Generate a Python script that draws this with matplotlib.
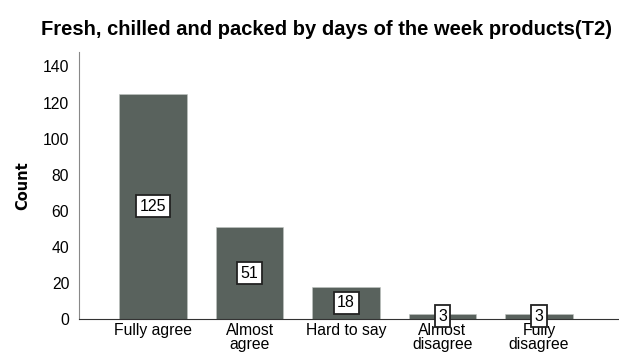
import numpy as np
import matplotlib.pyplot as plt

categories = ["Fully agree", "Almost\nagree", "Hard to say", "Almost\ndisagree", "Fully\ndisagree"]
counts = [125, 51, 18, 3, 3]
yticks = [0, 20, 40, 60, 80, 100, 120, 140]

plt.rcParams['font.family'] = ['Liberation Sans', 'DejaVu Sans']

fig = plt.figure(figsize=(6.19, 3.59), dpi=100)
ax = fig.add_axes([0.1276, 0.1114, 0.8724, 0.7437])

x = np.arange(len(categories))
bars = ax.bar(x, counts, width=0.7, color="#59625d", edgecolor="#c0c4c2", linewidth=0.4)

# value labels in white boxes, centred in each bar
for xi, c in zip(x, counts):
    ax.text(xi, c / 2, str(c), ha="center", va="center", fontsize=11.5,
            bbox=dict(boxstyle="square,pad=0.22", facecolor="white", edgecolor="#222222", linewidth=1.3))

ax.set_xlim(-0.77, 4.83)
ax.set_ylim(0, 148)
ax.set_xticks(x)
ax.set_xticklabels(categories, fontsize=11.3, linespacing=0.9)
ax.set_yticks(yticks)
ax.tick_params(axis="y", labelsize=11.3, length=0, pad=7)
ax.tick_params(axis="x", length=0, pad=3)

ax.spines["top"].set_visible(False)
ax.spines["right"].set_visible(False)
ax.spines["left"].set_color("#888888")
ax.spines["bottom"].set_color("#333333")

ax.set_ylabel("Count", fontsize=10.5, fontweight="bold", family="DejaVu Sans", labelpad=9)
fig.suptitle("Fresh, chilled and packed by days of the week products(T2)",
             x=0.528, y=0.945, fontsize=14.5, fontweight="bold")

fig.savefig("out.png", dpi=100)
